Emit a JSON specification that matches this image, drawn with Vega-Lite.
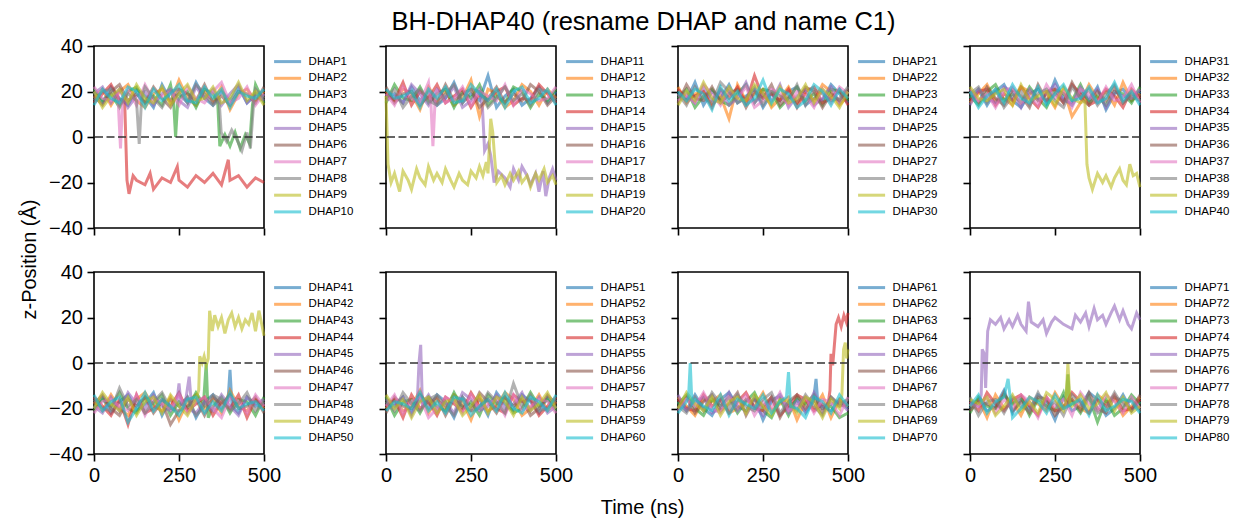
{"$schema":"https://vega.github.io/schema/vega-lite/v6.json","autosize":{"type":"pad"},"padding":{"left":18,"top":9,"right":5,"bottom":5},
"title":{"text":"BH-DHAP40 (resname DHAP and name C1)","anchor":"middle","frame":"bounds","fontSize":25.5,"fontWeight":"normal","color":"#000","offset":-20,"baseline":"alphabetic","dx":14.5},
"datasets":{
"p1":[{"s":1,"t":0,"z":20},{"s":1,"t":25,"z":15},{"s":1,"t":50,"z":22},{"s":1,"t":75,"z":17},{"s":1,"t":100,"z":14},{"s":1,"t":125,"z":21},{"s":1,"t":150,"z":18},{"s":1,"t":175,"z":13},{"s":1,"t":200,"z":23},{"s":1,"t":225,"z":16},{"s":1,"t":250,"z":19},{"s":1,"t":275,"z":15},{"s":1,"t":300,"z":24},{"s":1,"t":325,"z":17},{"s":1,"t":350,"z":14},{"s":1,"t":375,"z":20},{"s":1,"t":400,"z":16},{"s":1,"t":425,"z":22},{"s":1,"t":450,"z":15},{"s":1,"t":475,"z":19},{"s":1,"t":500,"z":18},
{"s":2,"t":0,"z":17},{"s":2,"t":25,"z":21},{"s":2,"t":50,"z":14},{"s":2,"t":75,"z":20},{"s":2,"t":100,"z":23},{"s":2,"t":125,"z":16},{"s":2,"t":150,"z":13},{"s":2,"t":175,"z":19},{"s":2,"t":200,"z":21},{"s":2,"t":225,"z":15},{"s":2,"t":250,"z":25},{"s":2,"t":275,"z":17},{"s":2,"t":300,"z":14},{"s":2,"t":325,"z":20},{"s":2,"t":350,"z":16},{"s":2,"t":375,"z":22},{"s":2,"t":400,"z":12},{"s":2,"t":425,"z":19},{"s":2,"t":450,"z":21},{"s":2,"t":475,"z":16},{"s":2,"t":500,"z":20},
{"s":3,"t":0,"z":21},{"s":3,"t":25,"z":16},{"s":3,"t":50,"z":19},{"s":3,"t":75,"z":13},{"s":3,"t":100,"z":20},{"s":3,"t":125,"z":22},{"s":3,"t":150,"z":15},{"s":3,"t":175,"z":18},{"s":3,"t":200,"z":14},{"s":3,"t":225,"z":23},{"s":3,"t":234,"z":16},{"s":3,"t":240,"z":0},{"s":3,"t":246,"z":15},{"s":3,"t":250,"z":17},{"s":3,"t":275,"z":20},{"s":3,"t":300,"z":13},{"s":3,"t":325,"z":21},{"s":3,"t":350,"z":19},{"s":3,"t":364,"z":15},{"s":3,"t":370,"z":-4},{"s":3,"t":385,"z":1},{"s":3,"t":400,"z":-4},{"s":3,"t":415,"z":2},{"s":3,"t":430,"z":-5},{"s":3,"t":445,"z":1},{"s":3,"t":458,"z":-3},{"s":3,"t":466,"z":14},{"s":3,"t":475,"z":23},{"s":3,"t":500,"z":15},
{"s":4,"t":0,"z":15},{"s":4,"t":25,"z":19},{"s":4,"t":50,"z":23},{"s":4,"t":75,"z":16},{"s":4,"t":90,"z":17},{"s":4,"t":97,"z":-19},{"s":4,"t":103,"z":-25},{"s":4,"t":115,"z":-17},{"s":4,"t":125,"z":-19},{"s":4,"t":150,"z":-21},{"s":4,"t":165,"z":-16},{"s":4,"t":175,"z":-23},{"s":4,"t":200,"z":-18},{"s":4,"t":225,"z":-20},{"s":4,"t":245,"z":-13},{"s":4,"t":250,"z":-19},{"s":4,"t":275,"z":-22},{"s":4,"t":300,"z":-17},{"s":4,"t":325,"z":-20},{"s":4,"t":350,"z":-16},{"s":4,"t":375,"z":-21},{"s":4,"t":395,"z":-10},{"s":4,"t":400,"z":-19},{"s":4,"t":425,"z":-17},{"s":4,"t":450,"z":-22},{"s":4,"t":475,"z":-18},{"s":4,"t":500,"z":-20},
{"s":5,"t":0,"z":19},{"s":5,"t":25,"z":22},{"s":5,"t":50,"z":15},{"s":5,"t":75,"z":21},{"s":5,"t":100,"z":13},{"s":5,"t":125,"z":18},{"s":5,"t":150,"z":20},{"s":5,"t":175,"z":14},{"s":5,"t":200,"z":19},{"s":5,"t":225,"z":21},{"s":5,"t":250,"z":16},{"s":5,"t":275,"z":13},{"s":5,"t":300,"z":22},{"s":5,"t":325,"z":17},{"s":5,"t":350,"z":21},{"s":5,"t":375,"z":14},{"s":5,"t":400,"z":19},{"s":5,"t":425,"z":23},{"s":5,"t":450,"z":15},{"s":5,"t":475,"z":18},{"s":5,"t":500,"z":16},
{"s":6,"t":0,"z":18},{"s":6,"t":25,"z":14},{"s":6,"t":50,"z":20},{"s":6,"t":75,"z":23},{"s":6,"t":100,"z":16},{"s":6,"t":125,"z":19},{"s":6,"t":150,"z":15},{"s":6,"t":175,"z":22},{"s":6,"t":200,"z":17},{"s":6,"t":225,"z":13},{"s":6,"t":250,"z":21},{"s":6,"t":275,"z":19},{"s":6,"t":300,"z":16},{"s":6,"t":325,"z":23},{"s":6,"t":350,"z":15},{"s":6,"t":375,"z":18},{"s":6,"t":400,"z":14},{"s":6,"t":425,"z":20},{"s":6,"t":450,"z":19},{"s":6,"t":475,"z":15},{"s":6,"t":500,"z":22},
{"s":7,"t":0,"z":22},{"s":7,"t":25,"z":17},{"s":7,"t":50,"z":16},{"s":7,"t":70,"z":19},{"s":7,"t":78,"z":-5},{"s":7,"t":84,"z":16},{"s":7,"t":100,"z":21},{"s":7,"t":125,"z":14},{"s":7,"t":150,"z":23},{"s":7,"t":175,"z":16},{"s":7,"t":200,"z":18},{"s":7,"t":225,"z":20},{"s":7,"t":250,"z":14},{"s":7,"t":275,"z":22},{"s":7,"t":300,"z":17},{"s":7,"t":325,"z":15},{"s":7,"t":350,"z":20},{"s":7,"t":375,"z":24},{"s":7,"t":400,"z":15},{"s":7,"t":425,"z":17},{"s":7,"t":450,"z":22},{"s":7,"t":475,"z":14},{"s":7,"t":500,"z":19},
{"s":8,"t":0,"z":16},{"s":8,"t":25,"z":20},{"s":8,"t":50,"z":21},{"s":8,"t":75,"z":14},{"s":8,"t":100,"z":19},{"s":8,"t":125,"z":16},{"s":8,"t":133,"z":-3},{"s":8,"t":140,"z":17},{"s":8,"t":150,"z":22},{"s":8,"t":175,"z":17},{"s":8,"t":200,"z":13},{"s":8,"t":225,"z":20},{"s":8,"t":250,"z":21},{"s":8,"t":275,"z":15},{"s":8,"t":300,"z":23},{"s":8,"t":325,"z":19},{"s":8,"t":350,"z":14},{"s":8,"t":368,"z":16},{"s":8,"t":374,"z":2},{"s":8,"t":390,"z":-2},{"s":8,"t":405,"z":3},{"s":8,"t":420,"z":-1},{"s":8,"t":435,"z":-6},{"s":8,"t":450,"z":2},{"s":8,"t":460,"z":-5},{"s":8,"t":470,"z":16},{"s":8,"t":475,"z":21},{"s":8,"t":500,"z":17},
{"s":9,"t":0,"z":20},{"s":9,"t":25,"z":13},{"s":9,"t":50,"z":18},{"s":9,"t":75,"z":21},{"s":9,"t":100,"z":15},{"s":9,"t":125,"z":23},{"s":9,"t":150,"z":17},{"s":9,"t":175,"z":15},{"s":9,"t":200,"z":22},{"s":9,"t":225,"z":14},{"s":9,"t":250,"z":19},{"s":9,"t":275,"z":23},{"s":9,"t":300,"z":16},{"s":9,"t":325,"z":17},{"s":9,"t":350,"z":22},{"s":9,"t":375,"z":15},{"s":9,"t":400,"z":17},{"s":9,"t":425,"z":24},{"s":9,"t":450,"z":16},{"s":9,"t":475,"z":20},{"s":9,"t":500,"z":14},
{"s":10,"t":0,"z":14},{"s":10,"t":25,"z":21},{"s":10,"t":50,"z":17},{"s":10,"t":75,"z":15},{"s":10,"t":100,"z":22},{"s":10,"t":125,"z":20},{"s":10,"t":150,"z":13},{"s":10,"t":175,"z":21},{"s":10,"t":200,"z":16},{"s":10,"t":225,"z":19},{"s":10,"t":250,"z":23},{"s":10,"t":275,"z":16},{"s":10,"t":300,"z":15},{"s":10,"t":325,"z":22},{"s":10,"t":350,"z":17},{"s":10,"t":375,"z":21},{"s":10,"t":400,"z":13},{"s":10,"t":425,"z":20},{"s":10,"t":450,"z":18},{"s":10,"t":475,"z":17},{"s":10,"t":500,"z":21}],
"p2":[{"s":11,"t":0,"z":18},{"s":11,"t":25,"z":19},{"s":11,"t":50,"z":15},{"s":11,"t":75,"z":22},{"s":11,"t":100,"z":16},{"s":11,"t":125,"z":20},{"s":11,"t":150,"z":14},{"s":11,"t":175,"z":17},{"s":11,"t":200,"z":24},{"s":11,"t":225,"z":15},{"s":11,"t":250,"z":19},{"s":11,"t":275,"z":16},{"s":11,"t":300,"z":27},{"s":11,"t":325,"z":13},{"s":11,"t":350,"z":18},{"s":11,"t":375,"z":21},{"s":11,"t":400,"z":14},{"s":11,"t":425,"z":17},{"s":11,"t":450,"z":22},{"s":11,"t":475,"z":15},{"s":11,"t":500,"z":20},
{"s":12,"t":0,"z":20},{"s":12,"t":25,"z":16},{"s":12,"t":50,"z":21},{"s":12,"t":75,"z":19},{"s":12,"t":100,"z":12},{"s":12,"t":125,"z":22},{"s":12,"t":150,"z":16},{"s":12,"t":175,"z":20},{"s":12,"t":200,"z":14},{"s":12,"t":225,"z":17},{"s":12,"t":250,"z":25},{"s":12,"t":275,"z":9},{"s":12,"t":300,"z":21},{"s":12,"t":325,"z":19},{"s":12,"t":350,"z":13},{"s":12,"t":375,"z":16},{"s":12,"t":400,"z":23},{"s":12,"t":425,"z":20},{"s":12,"t":450,"z":14},{"s":12,"t":475,"z":21},{"s":12,"t":500,"z":17},
{"s":13,"t":0,"z":15},{"s":13,"t":25,"z":23},{"s":13,"t":50,"z":17},{"s":13,"t":75,"z":16},{"s":13,"t":100,"z":22},{"s":13,"t":125,"z":15},{"s":13,"t":150,"z":19},{"s":13,"t":175,"z":21},{"s":13,"t":200,"z":13},{"s":13,"t":225,"z":20},{"s":13,"t":250,"z":17},{"s":13,"t":275,"z":23},{"s":13,"t":300,"z":14},{"s":13,"t":325,"z":18},{"s":13,"t":350,"z":15},{"s":13,"t":375,"z":22},{"s":13,"t":400,"z":20},{"s":13,"t":425,"z":13},{"s":13,"t":450,"z":19},{"s":13,"t":475,"z":16},{"s":13,"t":500,"z":21},
{"s":14,"t":0,"z":19},{"s":14,"t":25,"z":16},{"s":14,"t":50,"z":24},{"s":14,"t":75,"z":14},{"s":14,"t":100,"z":20},{"s":14,"t":125,"z":17},{"s":14,"t":150,"z":23},{"s":14,"t":175,"z":15},{"s":14,"t":200,"z":18},{"s":14,"t":225,"z":21},{"s":14,"t":250,"z":13},{"s":14,"t":275,"z":19},{"s":14,"t":300,"z":16},{"s":14,"t":325,"z":20},{"s":14,"t":350,"z":22},{"s":14,"t":375,"z":14},{"s":14,"t":400,"z":17},{"s":14,"t":425,"z":16},{"s":14,"t":450,"z":23},{"s":14,"t":475,"z":19},{"s":14,"t":500,"z":15},
{"s":15,"t":0,"z":16},{"s":15,"t":25,"z":18},{"s":15,"t":50,"z":15},{"s":15,"t":75,"z":23},{"s":15,"t":100,"z":19},{"s":15,"t":125,"z":14},{"s":15,"t":150,"z":21},{"s":15,"t":175,"z":17},{"s":15,"t":200,"z":22},{"s":15,"t":225,"z":13},{"s":15,"t":250,"z":16},{"s":15,"t":275,"z":21},{"s":15,"t":284,"z":12},{"s":15,"t":290,"z":-6},{"s":15,"t":300,"z":-3},{"s":15,"t":308,"z":-8},{"s":15,"t":318,"z":-20},{"s":15,"t":330,"z":-15},{"s":15,"t":350,"z":-18},{"s":15,"t":365,"z":-22},{"s":15,"t":375,"z":-14},{"s":15,"t":390,"z":-19},{"s":15,"t":400,"z":-13},{"s":15,"t":415,"z":-17},{"s":15,"t":425,"z":-21},{"s":15,"t":440,"z":-16},{"s":15,"t":450,"z":-24},{"s":15,"t":462,"z":-15},{"s":15,"t":470,"z":-26},{"s":15,"t":480,"z":-18},{"s":15,"t":490,"z":-14},{"s":15,"t":500,"z":-19},
{"s":16,"t":0,"z":22},{"s":16,"t":25,"z":15},{"s":16,"t":50,"z":19},{"s":16,"t":75,"z":20},{"s":16,"t":100,"z":14},{"s":16,"t":125,"z":18},{"s":16,"t":150,"z":15},{"s":16,"t":175,"z":23},{"s":16,"t":200,"z":16},{"s":16,"t":225,"z":19},{"s":16,"t":250,"z":21},{"s":16,"t":275,"z":13},{"s":16,"t":300,"z":17},{"s":16,"t":325,"z":22},{"s":16,"t":350,"z":15},{"s":16,"t":375,"z":19},{"s":16,"t":400,"z":16},{"s":16,"t":425,"z":23},{"s":16,"t":450,"z":20},{"s":16,"t":475,"z":14},{"s":16,"t":500,"z":18},
{"s":17,"t":0,"z":19},{"s":17,"t":25,"z":14},{"s":17,"t":50,"z":22},{"s":17,"t":75,"z":17},{"s":17,"t":100,"z":15},{"s":17,"t":125,"z":24},{"s":17,"t":132,"z":15},{"s":17,"t":138,"z":-4},{"s":17,"t":144,"z":15},{"s":17,"t":150,"z":20},{"s":17,"t":175,"z":15},{"s":17,"t":200,"z":17},{"s":17,"t":225,"z":22},{"s":17,"t":250,"z":14},{"s":17,"t":275,"z":20},{"s":17,"t":300,"z":18},{"s":17,"t":325,"z":16},{"s":17,"t":350,"z":23},{"s":17,"t":375,"z":14},{"s":17,"t":400,"z":21},{"s":17,"t":425,"z":19},{"s":17,"t":450,"z":16},{"s":17,"t":475,"z":17},{"s":17,"t":500,"z":22},
{"s":18,"t":0,"z":17},{"s":18,"t":25,"z":21},{"s":18,"t":50,"z":13},{"s":18,"t":75,"z":18},{"s":18,"t":100,"z":21},{"s":18,"t":125,"z":16},{"s":18,"t":150,"z":14},{"s":18,"t":175,"z":19},{"s":18,"t":200,"z":23},{"s":18,"t":225,"z":15},{"s":18,"t":250,"z":21},{"s":18,"t":275,"z":20},{"s":18,"t":300,"z":13},{"s":18,"t":325,"z":17},{"s":18,"t":350,"z":22},{"s":18,"t":375,"z":16},{"s":18,"t":400,"z":19},{"s":18,"t":425,"z":14},{"s":18,"t":450,"z":21},{"s":18,"t":475,"z":20},{"s":18,"t":500,"z":16},
{"s":19,"t":0,"z":18},{"s":19,"t":6,"z":-12},{"s":19,"t":15,"z":-20},{"s":19,"t":25,"z":-16},{"s":19,"t":40,"z":-24},{"s":19,"t":50,"z":-15},{"s":19,"t":65,"z":-19},{"s":19,"t":75,"z":-23},{"s":19,"t":90,"z":-14},{"s":19,"t":100,"z":-18},{"s":19,"t":115,"z":-21},{"s":19,"t":125,"z":-13},{"s":19,"t":140,"z":-19},{"s":19,"t":150,"z":-16},{"s":19,"t":165,"z":-20},{"s":19,"t":175,"z":-14},{"s":19,"t":190,"z":-19},{"s":19,"t":200,"z":-22},{"s":19,"t":215,"z":-16},{"s":19,"t":225,"z":-19},{"s":19,"t":240,"z":-21},{"s":19,"t":250,"z":-15},{"s":19,"t":265,"z":-18},{"s":19,"t":275,"z":-13},{"s":19,"t":285,"z":-17},{"s":19,"t":295,"z":-11},{"s":19,"t":300,"z":-16},{"s":19,"t":308,"z":8},{"s":19,"t":314,"z":2},{"s":19,"t":320,"z":-10},{"s":19,"t":326,"z":-20},{"s":19,"t":340,"z":-17},{"s":19,"t":350,"z":-21},{"s":19,"t":365,"z":-16},{"s":19,"t":375,"z":-19},{"s":19,"t":390,"z":-15},{"s":19,"t":400,"z":-20},{"s":19,"t":415,"z":-17},{"s":19,"t":425,"z":-22},{"s":19,"t":440,"z":-16},{"s":19,"t":450,"z":-19},{"s":19,"t":465,"z":-14},{"s":19,"t":475,"z":-20},{"s":19,"t":490,"z":-17},{"s":19,"t":500,"z":-21},
{"s":20,"t":0,"z":21},{"s":20,"t":25,"z":17},{"s":20,"t":50,"z":18},{"s":20,"t":75,"z":20},{"s":20,"t":100,"z":13},{"s":20,"t":125,"z":21},{"s":20,"t":150,"z":17},{"s":20,"t":175,"z":22},{"s":20,"t":200,"z":15},{"s":20,"t":225,"z":16},{"s":20,"t":250,"z":23},{"s":20,"t":275,"z":19},{"s":20,"t":300,"z":16},{"s":20,"t":325,"z":21},{"s":20,"t":350,"z":13},{"s":20,"t":375,"z":20},{"s":20,"t":400,"z":22},{"s":20,"t":425,"z":15},{"s":20,"t":450,"z":17},{"s":20,"t":475,"z":21},{"s":20,"t":500,"z":14}],
"p3":[{"s":21,"t":0,"z":19},{"s":21,"t":25,"z":16},{"s":21,"t":50,"z":24},{"s":21,"t":75,"z":14},{"s":21,"t":100,"z":20},{"s":21,"t":125,"z":17},{"s":21,"t":150,"z":23},{"s":21,"t":175,"z":15},{"s":21,"t":200,"z":18},{"s":21,"t":225,"z":21},{"s":21,"t":250,"z":13},{"s":21,"t":275,"z":19},{"s":21,"t":300,"z":16},{"s":21,"t":325,"z":20},{"s":21,"t":350,"z":22},{"s":21,"t":375,"z":14},{"s":21,"t":400,"z":17},{"s":21,"t":425,"z":16},{"s":21,"t":450,"z":23},{"s":21,"t":475,"z":19},{"s":21,"t":500,"z":15},
{"s":22,"t":0,"z":22},{"s":22,"t":25,"z":15},{"s":22,"t":50,"z":19},{"s":22,"t":75,"z":20},{"s":22,"t":100,"z":14},{"s":22,"t":125,"z":18},{"s":22,"t":150,"z":8},{"s":22,"t":175,"z":23},{"s":22,"t":200,"z":16},{"s":22,"t":225,"z":19},{"s":22,"t":250,"z":21},{"s":22,"t":275,"z":13},{"s":22,"t":300,"z":17},{"s":22,"t":325,"z":22},{"s":22,"t":350,"z":15},{"s":22,"t":375,"z":19},{"s":22,"t":400,"z":16},{"s":22,"t":425,"z":23},{"s":22,"t":450,"z":20},{"s":22,"t":475,"z":14},{"s":22,"t":500,"z":18},
{"s":23,"t":0,"z":17},{"s":23,"t":25,"z":21},{"s":23,"t":50,"z":13},{"s":23,"t":75,"z":18},{"s":23,"t":100,"z":21},{"s":23,"t":125,"z":16},{"s":23,"t":150,"z":14},{"s":23,"t":175,"z":19},{"s":23,"t":200,"z":23},{"s":23,"t":225,"z":15},{"s":23,"t":250,"z":21},{"s":23,"t":275,"z":20},{"s":23,"t":300,"z":13},{"s":23,"t":325,"z":17},{"s":23,"t":350,"z":22},{"s":23,"t":375,"z":16},{"s":23,"t":400,"z":19},{"s":23,"t":425,"z":14},{"s":23,"t":450,"z":21},{"s":23,"t":475,"z":20},{"s":23,"t":500,"z":16},
{"s":24,"t":0,"z":21},{"s":24,"t":25,"z":17},{"s":24,"t":50,"z":18},{"s":24,"t":75,"z":20},{"s":24,"t":100,"z":13},{"s":24,"t":125,"z":21},{"s":24,"t":150,"z":17},{"s":24,"t":175,"z":22},{"s":24,"t":200,"z":15},{"s":24,"t":225,"z":27},{"s":24,"t":250,"z":17},{"s":24,"t":275,"z":19},{"s":24,"t":300,"z":16},{"s":24,"t":325,"z":21},{"s":24,"t":350,"z":13},{"s":24,"t":375,"z":20},{"s":24,"t":400,"z":22},{"s":24,"t":425,"z":15},{"s":24,"t":450,"z":17},{"s":24,"t":475,"z":21},{"s":24,"t":500,"z":14},
{"s":25,"t":0,"z":18},{"s":25,"t":25,"z":19},{"s":25,"t":50,"z":15},{"s":25,"t":75,"z":22},{"s":25,"t":100,"z":16},{"s":25,"t":125,"z":20},{"s":25,"t":150,"z":14},{"s":25,"t":175,"z":17},{"s":25,"t":200,"z":24},{"s":25,"t":225,"z":15},{"s":25,"t":250,"z":19},{"s":25,"t":275,"z":16},{"s":25,"t":300,"z":23},{"s":25,"t":325,"z":13},{"s":25,"t":350,"z":18},{"s":25,"t":375,"z":21},{"s":25,"t":400,"z":14},{"s":25,"t":425,"z":17},{"s":25,"t":450,"z":22},{"s":25,"t":475,"z":15},{"s":25,"t":500,"z":20},
{"s":26,"t":0,"z":15},{"s":26,"t":25,"z":23},{"s":26,"t":50,"z":17},{"s":26,"t":75,"z":16},{"s":26,"t":100,"z":22},{"s":26,"t":125,"z":15},{"s":26,"t":150,"z":19},{"s":26,"t":175,"z":21},{"s":26,"t":200,"z":13},{"s":26,"t":225,"z":20},{"s":26,"t":250,"z":17},{"s":26,"t":275,"z":23},{"s":26,"t":300,"z":14},{"s":26,"t":325,"z":18},{"s":26,"t":350,"z":15},{"s":26,"t":375,"z":22},{"s":26,"t":400,"z":20},{"s":26,"t":425,"z":13},{"s":26,"t":450,"z":19},{"s":26,"t":475,"z":16},{"s":26,"t":500,"z":21},
{"s":27,"t":0,"z":16},{"s":27,"t":25,"z":18},{"s":27,"t":50,"z":15},{"s":27,"t":75,"z":23},{"s":27,"t":100,"z":19},{"s":27,"t":125,"z":14},{"s":27,"t":150,"z":21},{"s":27,"t":175,"z":17},{"s":27,"t":200,"z":22},{"s":27,"t":225,"z":13},{"s":27,"t":250,"z":16},{"s":27,"t":275,"z":21},{"s":27,"t":300,"z":19},{"s":27,"t":325,"z":14},{"s":27,"t":350,"z":20},{"s":27,"t":375,"z":18},{"s":27,"t":400,"z":13},{"s":27,"t":425,"z":21},{"s":27,"t":450,"z":15},{"s":27,"t":475,"z":22},{"s":27,"t":500,"z":19},
{"s":28,"t":0,"z":19},{"s":28,"t":25,"z":14},{"s":28,"t":50,"z":22},{"s":28,"t":75,"z":17},{"s":28,"t":100,"z":15},{"s":28,"t":125,"z":24},{"s":28,"t":150,"z":20},{"s":28,"t":175,"z":15},{"s":28,"t":200,"z":17},{"s":28,"t":225,"z":22},{"s":28,"t":250,"z":14},{"s":28,"t":275,"z":20},{"s":28,"t":300,"z":18},{"s":28,"t":325,"z":16},{"s":28,"t":350,"z":23},{"s":28,"t":375,"z":14},{"s":28,"t":400,"z":21},{"s":28,"t":425,"z":19},{"s":28,"t":450,"z":16},{"s":28,"t":475,"z":17},{"s":28,"t":500,"z":22},
{"s":29,"t":0,"z":14},{"s":29,"t":25,"z":20},{"s":29,"t":50,"z":16},{"s":29,"t":75,"z":24},{"s":29,"t":100,"z":17},{"s":29,"t":125,"z":15},{"s":29,"t":150,"z":22},{"s":29,"t":175,"z":17},{"s":29,"t":200,"z":16},{"s":29,"t":225,"z":23},{"s":29,"t":250,"z":19},{"s":29,"t":275,"z":14},{"s":29,"t":300,"z":22},{"s":29,"t":325,"z":15},{"s":29,"t":350,"z":17},{"s":29,"t":375,"z":23},{"s":29,"t":400,"z":15},{"s":29,"t":425,"z":21},{"s":29,"t":450,"z":18},{"s":29,"t":475,"z":13},{"s":29,"t":500,"z":20},
{"s":30,"t":0,"z":20},{"s":30,"t":25,"z":16},{"s":30,"t":50,"z":21},{"s":30,"t":75,"z":19},{"s":30,"t":100,"z":12},{"s":30,"t":125,"z":22},{"s":30,"t":150,"z":16},{"s":30,"t":175,"z":20},{"s":30,"t":200,"z":14},{"s":30,"t":225,"z":17},{"s":30,"t":250,"z":25},{"s":30,"t":275,"z":15},{"s":30,"t":300,"z":21},{"s":30,"t":325,"z":19},{"s":30,"t":350,"z":13},{"s":30,"t":375,"z":16},{"s":30,"t":400,"z":23},{"s":30,"t":425,"z":20},{"s":30,"t":450,"z":14},{"s":30,"t":475,"z":21},{"s":30,"t":500,"z":17}],
"p4":[{"s":31,"t":0,"z":17},{"s":31,"t":25,"z":21},{"s":31,"t":50,"z":14},{"s":31,"t":75,"z":20},{"s":31,"t":100,"z":23},{"s":31,"t":125,"z":16},{"s":31,"t":150,"z":13},{"s":31,"t":175,"z":19},{"s":31,"t":200,"z":21},{"s":31,"t":225,"z":15},{"s":31,"t":250,"z":25},{"s":31,"t":275,"z":17},{"s":31,"t":300,"z":14},{"s":31,"t":325,"z":20},{"s":31,"t":350,"z":16},{"s":31,"t":375,"z":22},{"s":31,"t":400,"z":12},{"s":31,"t":425,"z":19},{"s":31,"t":450,"z":21},{"s":31,"t":475,"z":16},{"s":31,"t":500,"z":20},
{"s":32,"t":0,"z":15},{"s":32,"t":25,"z":19},{"s":32,"t":50,"z":23},{"s":32,"t":75,"z":16},{"s":32,"t":100,"z":17},{"s":32,"t":125,"z":14},{"s":32,"t":150,"z":22},{"s":32,"t":175,"z":20},{"s":32,"t":200,"z":16},{"s":32,"t":225,"z":19},{"s":32,"t":250,"z":13},{"s":32,"t":275,"z":21},{"s":32,"t":300,"z":9},{"s":32,"t":325,"z":15},{"s":32,"t":350,"z":23},{"s":32,"t":375,"z":17},{"s":32,"t":400,"z":20},{"s":32,"t":425,"z":14},{"s":32,"t":450,"z":24},{"s":32,"t":475,"z":16},{"s":32,"t":500,"z":19},
{"s":33,"t":0,"z":18},{"s":33,"t":25,"z":14},{"s":33,"t":50,"z":20},{"s":33,"t":75,"z":23},{"s":33,"t":100,"z":16},{"s":33,"t":125,"z":19},{"s":33,"t":150,"z":15},{"s":33,"t":175,"z":22},{"s":33,"t":200,"z":17},{"s":33,"t":225,"z":13},{"s":33,"t":250,"z":21},{"s":33,"t":275,"z":19},{"s":33,"t":300,"z":16},{"s":33,"t":325,"z":23},{"s":33,"t":350,"z":15},{"s":33,"t":375,"z":18},{"s":33,"t":400,"z":14},{"s":33,"t":425,"z":20},{"s":33,"t":450,"z":19},{"s":33,"t":475,"z":15},{"s":33,"t":500,"z":22},
{"s":34,"t":0,"z":16},{"s":34,"t":25,"z":20},{"s":34,"t":50,"z":21},{"s":34,"t":75,"z":14},{"s":34,"t":100,"z":19},{"s":34,"t":125,"z":16},{"s":34,"t":150,"z":22},{"s":34,"t":175,"z":17},{"s":34,"t":200,"z":13},{"s":34,"t":225,"z":20},{"s":34,"t":250,"z":21},{"s":34,"t":275,"z":15},{"s":34,"t":300,"z":23},{"s":34,"t":325,"z":19},{"s":34,"t":350,"z":14},{"s":34,"t":375,"z":16},{"s":34,"t":400,"z":21},{"s":34,"t":425,"z":18},{"s":34,"t":450,"z":13},{"s":34,"t":475,"z":21},{"s":34,"t":500,"z":17},
{"s":35,"t":0,"z":14},{"s":35,"t":25,"z":21},{"s":35,"t":50,"z":17},{"s":35,"t":75,"z":15},{"s":35,"t":100,"z":22},{"s":35,"t":125,"z":20},{"s":35,"t":150,"z":13},{"s":35,"t":175,"z":21},{"s":35,"t":200,"z":16},{"s":35,"t":225,"z":19},{"s":35,"t":250,"z":23},{"s":35,"t":275,"z":16},{"s":35,"t":300,"z":15},{"s":35,"t":325,"z":22},{"s":35,"t":350,"z":17},{"s":35,"t":375,"z":21},{"s":35,"t":400,"z":13},{"s":35,"t":425,"z":20},{"s":35,"t":450,"z":18},{"s":35,"t":475,"z":17},{"s":35,"t":500,"z":21},
{"s":36,"t":0,"z":20},{"s":36,"t":25,"z":15},{"s":36,"t":50,"z":22},{"s":36,"t":75,"z":17},{"s":36,"t":100,"z":14},{"s":36,"t":125,"z":21},{"s":36,"t":150,"z":18},{"s":36,"t":175,"z":13},{"s":36,"t":200,"z":23},{"s":36,"t":225,"z":16},{"s":36,"t":250,"z":19},{"s":36,"t":275,"z":15},{"s":36,"t":300,"z":24},{"s":36,"t":325,"z":17},{"s":36,"t":350,"z":14},{"s":36,"t":375,"z":20},{"s":36,"t":400,"z":16},{"s":36,"t":425,"z":22},{"s":36,"t":450,"z":15},{"s":36,"t":475,"z":19},{"s":36,"t":500,"z":18},
{"s":37,"t":0,"z":21},{"s":37,"t":25,"z":16},{"s":37,"t":50,"z":19},{"s":37,"t":75,"z":13},{"s":37,"t":100,"z":20},{"s":37,"t":125,"z":22},{"s":37,"t":150,"z":15},{"s":37,"t":175,"z":18},{"s":37,"t":200,"z":14},{"s":37,"t":225,"z":23},{"s":37,"t":250,"z":17},{"s":37,"t":275,"z":20},{"s":37,"t":300,"z":13},{"s":37,"t":325,"z":21},{"s":37,"t":350,"z":19},{"s":37,"t":375,"z":15},{"s":37,"t":400,"z":22},{"s":37,"t":425,"z":16},{"s":37,"t":450,"z":17},{"s":37,"t":475,"z":23},{"s":37,"t":500,"z":15},
{"s":38,"t":0,"z":19},{"s":38,"t":25,"z":22},{"s":38,"t":50,"z":15},{"s":38,"t":75,"z":21},{"s":38,"t":100,"z":13},{"s":38,"t":125,"z":18},{"s":38,"t":150,"z":20},{"s":38,"t":175,"z":14},{"s":38,"t":200,"z":19},{"s":38,"t":225,"z":21},{"s":38,"t":250,"z":16},{"s":38,"t":275,"z":13},{"s":38,"t":300,"z":22},{"s":38,"t":325,"z":17},{"s":38,"t":350,"z":21},{"s":38,"t":375,"z":14},{"s":38,"t":400,"z":19},{"s":38,"t":425,"z":23},{"s":38,"t":450,"z":15},{"s":38,"t":475,"z":18},{"s":38,"t":500,"z":16},
{"s":39,"t":0,"z":22},{"s":39,"t":25,"z":17},{"s":39,"t":50,"z":16},{"s":39,"t":75,"z":19},{"s":39,"t":100,"z":21},{"s":39,"t":125,"z":14},{"s":39,"t":150,"z":23},{"s":39,"t":175,"z":16},{"s":39,"t":200,"z":18},{"s":39,"t":225,"z":20},{"s":39,"t":250,"z":14},{"s":39,"t":275,"z":22},{"s":39,"t":300,"z":17},{"s":39,"t":325,"z":15},{"s":39,"t":338,"z":16},{"s":39,"t":344,"z":-12},{"s":39,"t":350,"z":-18},{"s":39,"t":360,"z":-23},{"s":39,"t":375,"z":-16},{"s":39,"t":390,"z":-20},{"s":39,"t":400,"z":-17},{"s":39,"t":415,"z":-22},{"s":39,"t":425,"z":-18},{"s":39,"t":440,"z":-14},{"s":39,"t":450,"z":-19},{"s":39,"t":460,"z":-21},{"s":39,"t":470,"z":-12},{"s":39,"t":480,"z":-17},{"s":39,"t":490,"z":-16},{"s":39,"t":500,"z":-22},
{"s":40,"t":0,"z":20},{"s":40,"t":25,"z":13},{"s":40,"t":50,"z":18},{"s":40,"t":75,"z":21},{"s":40,"t":100,"z":15},{"s":40,"t":125,"z":23},{"s":40,"t":150,"z":17},{"s":40,"t":175,"z":15},{"s":40,"t":200,"z":22},{"s":40,"t":225,"z":14},{"s":40,"t":250,"z":19},{"s":40,"t":275,"z":23},{"s":40,"t":300,"z":16},{"s":40,"t":325,"z":17},{"s":40,"t":350,"z":22},{"s":40,"t":375,"z":15},{"s":40,"t":400,"z":17},{"s":40,"t":425,"z":24},{"s":40,"t":450,"z":16},{"s":40,"t":475,"z":20},{"s":40,"t":500,"z":14}],
"p5":[{"s":41,"t":0,"z":-20},{"s":41,"t":25,"z":-15},{"s":41,"t":50,"z":-22},{"s":41,"t":75,"z":-17},{"s":41,"t":100,"z":-14},{"s":41,"t":125,"z":-21},{"s":41,"t":150,"z":-18},{"s":41,"t":175,"z":-13},{"s":41,"t":200,"z":-23},{"s":41,"t":225,"z":-16},{"s":41,"t":250,"z":-19},{"s":41,"t":275,"z":-15},{"s":41,"t":300,"z":-24},{"s":41,"t":325,"z":-17},{"s":41,"t":350,"z":-14},{"s":41,"t":375,"z":-20},{"s":41,"t":394,"z":-17},{"s":41,"t":400,"z":-3},{"s":41,"t":406,"z":-19},{"s":41,"t":425,"z":-22},{"s":41,"t":450,"z":-15},{"s":41,"t":475,"z":-19},{"s":41,"t":500,"z":-18},
{"s":42,"t":0,"z":-17},{"s":42,"t":25,"z":-21},{"s":42,"t":50,"z":-14},{"s":42,"t":75,"z":-20},{"s":42,"t":100,"z":-23},{"s":42,"t":125,"z":-16},{"s":42,"t":150,"z":-13},{"s":42,"t":175,"z":-19},{"s":42,"t":200,"z":-21},{"s":42,"t":225,"z":-15},{"s":42,"t":250,"z":-25},{"s":42,"t":275,"z":-17},{"s":42,"t":300,"z":-14},{"s":42,"t":325,"z":-20},{"s":42,"t":350,"z":-16},{"s":42,"t":375,"z":-22},{"s":42,"t":400,"z":-12},{"s":42,"t":425,"z":-19},{"s":42,"t":450,"z":-21},{"s":42,"t":475,"z":-16},{"s":42,"t":500,"z":-20},
{"s":43,"t":0,"z":-21},{"s":43,"t":25,"z":-16},{"s":43,"t":50,"z":-19},{"s":43,"t":75,"z":-13},{"s":43,"t":100,"z":-20},{"s":43,"t":125,"z":-22},{"s":43,"t":150,"z":-15},{"s":43,"t":175,"z":-18},{"s":43,"t":200,"z":-14},{"s":43,"t":225,"z":-23},{"s":43,"t":250,"z":-17},{"s":43,"t":275,"z":-20},{"s":43,"t":300,"z":-13},{"s":43,"t":322,"z":-18},{"s":43,"t":330,"z":0},{"s":43,"t":336,"z":-24},{"s":43,"t":350,"z":-19},{"s":43,"t":375,"z":-15},{"s":43,"t":400,"z":-22},{"s":43,"t":425,"z":-16},{"s":43,"t":450,"z":-17},{"s":43,"t":475,"z":-23},{"s":43,"t":500,"z":-15},
{"s":44,"t":0,"z":-15},{"s":44,"t":25,"z":-19},{"s":44,"t":50,"z":-23},{"s":44,"t":75,"z":-16},{"s":44,"t":100,"z":-27},{"s":44,"t":125,"z":-14},{"s":44,"t":150,"z":-22},{"s":44,"t":175,"z":-20},{"s":44,"t":200,"z":-16},{"s":44,"t":225,"z":-19},{"s":44,"t":250,"z":-13},{"s":44,"t":275,"z":-21},{"s":44,"t":300,"z":-18},{"s":44,"t":325,"z":-15},{"s":44,"t":350,"z":-23},{"s":44,"t":375,"z":-17},{"s":44,"t":400,"z":-20},{"s":44,"t":425,"z":-14},{"s":44,"t":450,"z":-24},{"s":44,"t":475,"z":-16},{"s":44,"t":500,"z":-19},
{"s":45,"t":0,"z":-19},{"s":45,"t":25,"z":-22},{"s":45,"t":50,"z":-15},{"s":45,"t":75,"z":-21},{"s":45,"t":100,"z":-13},{"s":45,"t":125,"z":-18},{"s":45,"t":150,"z":-20},{"s":45,"t":175,"z":-14},{"s":45,"t":200,"z":-19},{"s":45,"t":225,"z":-21},{"s":45,"t":244,"z":-17},{"s":45,"t":250,"z":-9},{"s":45,"t":256,"z":-18},{"s":45,"t":270,"z":-16},{"s":45,"t":280,"z":-6},{"s":45,"t":288,"z":-21},{"s":45,"t":300,"z":-22},{"s":45,"t":325,"z":-17},{"s":45,"t":350,"z":-21},{"s":45,"t":375,"z":-14},{"s":45,"t":400,"z":-19},{"s":45,"t":425,"z":-23},{"s":45,"t":450,"z":-15},{"s":45,"t":475,"z":-18},{"s":45,"t":500,"z":-16},
{"s":46,"t":0,"z":-18},{"s":46,"t":25,"z":-14},{"s":46,"t":50,"z":-20},{"s":46,"t":75,"z":-23},{"s":46,"t":100,"z":-16},{"s":46,"t":125,"z":-19},{"s":46,"t":150,"z":-15},{"s":46,"t":175,"z":-22},{"s":46,"t":200,"z":-17},{"s":46,"t":225,"z":-27},{"s":46,"t":250,"z":-21},{"s":46,"t":275,"z":-19},{"s":46,"t":300,"z":-16},{"s":46,"t":325,"z":-23},{"s":46,"t":350,"z":-15},{"s":46,"t":375,"z":-18},{"s":46,"t":400,"z":-14},{"s":46,"t":425,"z":-20},{"s":46,"t":450,"z":-19},{"s":46,"t":475,"z":-15},{"s":46,"t":500,"z":-22},
{"s":47,"t":0,"z":-22},{"s":47,"t":25,"z":-17},{"s":47,"t":50,"z":-16},{"s":47,"t":75,"z":-19},{"s":47,"t":100,"z":-21},{"s":47,"t":125,"z":-14},{"s":47,"t":150,"z":-23},{"s":47,"t":175,"z":-16},{"s":47,"t":200,"z":-18},{"s":47,"t":225,"z":-20},{"s":47,"t":250,"z":-14},{"s":47,"t":275,"z":-22},{"s":47,"t":300,"z":-17},{"s":47,"t":325,"z":-15},{"s":47,"t":350,"z":-20},{"s":47,"t":375,"z":-24},{"s":47,"t":400,"z":-15},{"s":47,"t":425,"z":-17},{"s":47,"t":450,"z":-22},{"s":47,"t":475,"z":-14},{"s":47,"t":500,"z":-19},
{"s":48,"t":0,"z":-16},{"s":48,"t":25,"z":-20},{"s":48,"t":50,"z":-21},{"s":48,"t":75,"z":-11},{"s":48,"t":100,"z":-19},{"s":48,"t":125,"z":-16},{"s":48,"t":150,"z":-22},{"s":48,"t":175,"z":-17},{"s":48,"t":200,"z":-13},{"s":48,"t":225,"z":-20},{"s":48,"t":250,"z":-21},{"s":48,"t":275,"z":-15},{"s":48,"t":300,"z":-23},{"s":48,"t":325,"z":-19},{"s":48,"t":350,"z":-14},{"s":48,"t":375,"z":-16},{"s":48,"t":400,"z":-21},{"s":48,"t":425,"z":-18},{"s":48,"t":450,"z":-13},{"s":48,"t":475,"z":-21},{"s":48,"t":500,"z":-17},
{"s":49,"t":0,"z":-20},{"s":49,"t":25,"z":-13},{"s":49,"t":50,"z":-18},{"s":49,"t":75,"z":-21},{"s":49,"t":100,"z":-15},{"s":49,"t":125,"z":-23},{"s":49,"t":150,"z":-17},{"s":49,"t":175,"z":-15},{"s":49,"t":200,"z":-22},{"s":49,"t":225,"z":-14},{"s":49,"t":250,"z":-19},{"s":49,"t":275,"z":-23},{"s":49,"t":300,"z":-16},{"s":49,"t":308,"z":-12},{"s":49,"t":311,"z":3},{"s":49,"t":318,"z":0},{"s":49,"t":324,"z":3},{"s":49,"t":330,"z":-1},{"s":49,"t":336,"z":2},{"s":49,"t":340,"z":23},{"s":49,"t":348,"z":14},{"s":49,"t":355,"z":21},{"s":49,"t":365,"z":16},{"s":49,"t":375,"z":20},{"s":49,"t":385,"z":13},{"s":49,"t":395,"z":19},{"s":49,"t":405,"z":22},{"s":49,"t":415,"z":16},{"s":49,"t":425,"z":20},{"s":49,"t":435,"z":15},{"s":49,"t":445,"z":19},{"s":49,"t":455,"z":17},{"s":49,"t":465,"z":22},{"s":49,"t":475,"z":14},{"s":49,"t":485,"z":23},{"s":49,"t":492,"z":18},{"s":49,"t":500,"z":12},
{"s":50,"t":0,"z":-14},{"s":50,"t":25,"z":-21},{"s":50,"t":50,"z":-17},{"s":50,"t":75,"z":-15},{"s":50,"t":100,"z":-26},{"s":50,"t":125,"z":-20},{"s":50,"t":150,"z":-13},{"s":50,"t":175,"z":-21},{"s":50,"t":200,"z":-16},{"s":50,"t":225,"z":-19},{"s":50,"t":250,"z":-23},{"s":50,"t":275,"z":-16},{"s":50,"t":300,"z":-15},{"s":50,"t":325,"z":-22},{"s":50,"t":350,"z":-17},{"s":50,"t":375,"z":-21},{"s":50,"t":400,"z":-13},{"s":50,"t":425,"z":-20},{"s":50,"t":450,"z":-18},{"s":50,"t":475,"z":-17},{"s":50,"t":500,"z":-21}],
"p6":[{"s":51,"t":0,"z":-18},{"s":51,"t":25,"z":-19},{"s":51,"t":50,"z":-15},{"s":51,"t":75,"z":-22},{"s":51,"t":100,"z":-16},{"s":51,"t":125,"z":-20},{"s":51,"t":150,"z":-14},{"s":51,"t":175,"z":-17},{"s":51,"t":200,"z":-24},{"s":51,"t":225,"z":-15},{"s":51,"t":250,"z":-19},{"s":51,"t":275,"z":-16},{"s":51,"t":300,"z":-23},{"s":51,"t":325,"z":-13},{"s":51,"t":350,"z":-18},{"s":51,"t":375,"z":-21},{"s":51,"t":400,"z":-14},{"s":51,"t":425,"z":-17},{"s":51,"t":450,"z":-22},{"s":51,"t":475,"z":-15},{"s":51,"t":500,"z":-20},
{"s":52,"t":0,"z":-20},{"s":52,"t":25,"z":-16},{"s":52,"t":50,"z":-21},{"s":52,"t":75,"z":-19},{"s":52,"t":100,"z":-12},{"s":52,"t":125,"z":-22},{"s":52,"t":150,"z":-16},{"s":52,"t":175,"z":-20},{"s":52,"t":200,"z":-14},{"s":52,"t":225,"z":-17},{"s":52,"t":250,"z":-25},{"s":52,"t":275,"z":-15},{"s":52,"t":300,"z":-21},{"s":52,"t":325,"z":-19},{"s":52,"t":350,"z":-13},{"s":52,"t":375,"z":-16},{"s":52,"t":400,"z":-23},{"s":52,"t":425,"z":-20},{"s":52,"t":450,"z":-14},{"s":52,"t":475,"z":-21},{"s":52,"t":500,"z":-17},
{"s":53,"t":0,"z":-15},{"s":53,"t":25,"z":-23},{"s":53,"t":50,"z":-17},{"s":53,"t":75,"z":-16},{"s":53,"t":100,"z":-22},{"s":53,"t":125,"z":-15},{"s":53,"t":150,"z":-19},{"s":53,"t":175,"z":-21},{"s":53,"t":200,"z":-13},{"s":53,"t":225,"z":-20},{"s":53,"t":250,"z":-17},{"s":53,"t":275,"z":-23},{"s":53,"t":300,"z":-14},{"s":53,"t":325,"z":-18},{"s":53,"t":350,"z":-15},{"s":53,"t":375,"z":-22},{"s":53,"t":400,"z":-20},{"s":53,"t":425,"z":-13},{"s":53,"t":450,"z":-19},{"s":53,"t":475,"z":-16},{"s":53,"t":500,"z":-21},
{"s":54,"t":0,"z":-19},{"s":54,"t":25,"z":-16},{"s":54,"t":50,"z":-24},{"s":54,"t":75,"z":-14},{"s":54,"t":100,"z":-20},{"s":54,"t":125,"z":-17},{"s":54,"t":150,"z":-23},{"s":54,"t":175,"z":-15},{"s":54,"t":200,"z":-18},{"s":54,"t":225,"z":-21},{"s":54,"t":250,"z":-13},{"s":54,"t":275,"z":-19},{"s":54,"t":300,"z":-16},{"s":54,"t":325,"z":-20},{"s":54,"t":350,"z":-22},{"s":54,"t":375,"z":-14},{"s":54,"t":400,"z":-17},{"s":54,"t":425,"z":-16},{"s":54,"t":450,"z":-23},{"s":54,"t":475,"z":-19},{"s":54,"t":500,"z":-15},
{"s":55,"t":0,"z":-16},{"s":55,"t":25,"z":-18},{"s":55,"t":50,"z":-15},{"s":55,"t":75,"z":-23},{"s":55,"t":92,"z":-17},{"s":55,"t":97,"z":0},{"s":55,"t":102,"z":8},{"s":55,"t":107,"z":-18},{"s":55,"t":125,"z":-14},{"s":55,"t":150,"z":-21},{"s":55,"t":175,"z":-17},{"s":55,"t":200,"z":-22},{"s":55,"t":225,"z":-13},{"s":55,"t":250,"z":-16},{"s":55,"t":275,"z":-21},{"s":55,"t":300,"z":-19},{"s":55,"t":325,"z":-14},{"s":55,"t":350,"z":-20},{"s":55,"t":375,"z":-18},{"s":55,"t":400,"z":-13},{"s":55,"t":425,"z":-21},{"s":55,"t":450,"z":-15},{"s":55,"t":475,"z":-22},{"s":55,"t":500,"z":-19},
{"s":56,"t":0,"z":-22},{"s":56,"t":25,"z":-15},{"s":56,"t":50,"z":-19},{"s":56,"t":75,"z":-20},{"s":56,"t":100,"z":-14},{"s":56,"t":125,"z":-18},{"s":56,"t":150,"z":-15},{"s":56,"t":175,"z":-23},{"s":56,"t":200,"z":-16},{"s":56,"t":225,"z":-19},{"s":56,"t":250,"z":-21},{"s":56,"t":275,"z":-13},{"s":56,"t":300,"z":-17},{"s":56,"t":325,"z":-22},{"s":56,"t":350,"z":-15},{"s":56,"t":375,"z":-19},{"s":56,"t":400,"z":-16},{"s":56,"t":425,"z":-23},{"s":56,"t":450,"z":-20},{"s":56,"t":475,"z":-14},{"s":56,"t":500,"z":-18},
{"s":57,"t":0,"z":-19},{"s":57,"t":25,"z":-14},{"s":57,"t":50,"z":-22},{"s":57,"t":75,"z":-17},{"s":57,"t":100,"z":-15},{"s":57,"t":125,"z":-24},{"s":57,"t":150,"z":-20},{"s":57,"t":175,"z":-15},{"s":57,"t":200,"z":-17},{"s":57,"t":225,"z":-22},{"s":57,"t":250,"z":-14},{"s":57,"t":275,"z":-20},{"s":57,"t":300,"z":-18},{"s":57,"t":325,"z":-16},{"s":57,"t":350,"z":-23},{"s":57,"t":375,"z":-14},{"s":57,"t":400,"z":-21},{"s":57,"t":425,"z":-19},{"s":57,"t":450,"z":-16},{"s":57,"t":475,"z":-17},{"s":57,"t":500,"z":-22},
{"s":58,"t":0,"z":-17},{"s":58,"t":25,"z":-21},{"s":58,"t":50,"z":-13},{"s":58,"t":75,"z":-18},{"s":58,"t":100,"z":-21},{"s":58,"t":125,"z":-16},{"s":58,"t":150,"z":-14},{"s":58,"t":175,"z":-19},{"s":58,"t":200,"z":-23},{"s":58,"t":225,"z":-15},{"s":58,"t":250,"z":-21},{"s":58,"t":275,"z":-20},{"s":58,"t":300,"z":-13},{"s":58,"t":325,"z":-17},{"s":58,"t":350,"z":-22},{"s":58,"t":375,"z":-9},{"s":58,"t":400,"z":-19},{"s":58,"t":425,"z":-14},{"s":58,"t":450,"z":-21},{"s":58,"t":475,"z":-20},{"s":58,"t":500,"z":-16},
{"s":59,"t":0,"z":-14},{"s":59,"t":25,"z":-20},{"s":59,"t":50,"z":-16},{"s":59,"t":75,"z":-24},{"s":59,"t":100,"z":-17},{"s":59,"t":125,"z":-15},{"s":59,"t":150,"z":-22},{"s":59,"t":175,"z":-17},{"s":59,"t":200,"z":-16},{"s":59,"t":225,"z":-23},{"s":59,"t":250,"z":-19},{"s":59,"t":275,"z":-14},{"s":59,"t":300,"z":-22},{"s":59,"t":325,"z":-15},{"s":59,"t":350,"z":-17},{"s":59,"t":375,"z":-23},{"s":59,"t":400,"z":-15},{"s":59,"t":425,"z":-21},{"s":59,"t":450,"z":-18},{"s":59,"t":475,"z":-13},{"s":59,"t":500,"z":-20},
{"s":60,"t":0,"z":-21},{"s":60,"t":25,"z":-17},{"s":60,"t":50,"z":-18},{"s":60,"t":75,"z":-20},{"s":60,"t":100,"z":-13},{"s":60,"t":125,"z":-21},{"s":60,"t":150,"z":-17},{"s":60,"t":175,"z":-22},{"s":60,"t":200,"z":-15},{"s":60,"t":225,"z":-16},{"s":60,"t":250,"z":-23},{"s":60,"t":275,"z":-19},{"s":60,"t":300,"z":-16},{"s":60,"t":325,"z":-21},{"s":60,"t":350,"z":-13},{"s":60,"t":375,"z":-20},{"s":60,"t":400,"z":-22},{"s":60,"t":425,"z":-15},{"s":60,"t":450,"z":-17},{"s":60,"t":475,"z":-21},{"s":60,"t":500,"z":-14}],
"p7":[{"s":61,"t":0,"z":-17},{"s":61,"t":25,"z":-21},{"s":61,"t":50,"z":-14},{"s":61,"t":75,"z":-20},{"s":61,"t":100,"z":-23},{"s":61,"t":125,"z":-16},{"s":61,"t":150,"z":-13},{"s":61,"t":175,"z":-19},{"s":61,"t":200,"z":-21},{"s":61,"t":225,"z":-15},{"s":61,"t":250,"z":-25},{"s":61,"t":275,"z":-17},{"s":61,"t":300,"z":-14},{"s":61,"t":325,"z":-20},{"s":61,"t":350,"z":-16},{"s":61,"t":375,"z":-22},{"s":61,"t":398,"z":-17},{"s":61,"t":406,"z":-7},{"s":61,"t":412,"z":-19},{"s":61,"t":425,"z":-19},{"s":61,"t":450,"z":-21},{"s":61,"t":475,"z":-16},{"s":61,"t":500,"z":-20},
{"s":62,"t":0,"z":-15},{"s":62,"t":25,"z":-19},{"s":62,"t":50,"z":-23},{"s":62,"t":75,"z":-16},{"s":62,"t":100,"z":-17},{"s":62,"t":125,"z":-14},{"s":62,"t":150,"z":-22},{"s":62,"t":175,"z":-20},{"s":62,"t":200,"z":-16},{"s":62,"t":225,"z":-19},{"s":62,"t":250,"z":-13},{"s":62,"t":275,"z":-21},{"s":62,"t":300,"z":-18},{"s":62,"t":325,"z":-15},{"s":62,"t":350,"z":-25},{"s":62,"t":375,"z":-17},{"s":62,"t":400,"z":-20},{"s":62,"t":425,"z":-14},{"s":62,"t":450,"z":-24},{"s":62,"t":475,"z":-16},{"s":62,"t":500,"z":-19},
{"s":63,"t":0,"z":-18},{"s":63,"t":25,"z":-14},{"s":63,"t":50,"z":-20},{"s":63,"t":75,"z":-23},{"s":63,"t":100,"z":-16},{"s":63,"t":125,"z":-19},{"s":63,"t":150,"z":-15},{"s":63,"t":175,"z":-22},{"s":63,"t":200,"z":-17},{"s":63,"t":225,"z":-13},{"s":63,"t":250,"z":-21},{"s":63,"t":275,"z":-24},{"s":63,"t":300,"z":-16},{"s":63,"t":325,"z":-23},{"s":63,"t":350,"z":-15},{"s":63,"t":375,"z":-18},{"s":63,"t":400,"z":-14},{"s":63,"t":425,"z":-20},{"s":63,"t":450,"z":-19},{"s":63,"t":475,"z":-24},{"s":63,"t":500,"z":-22},
{"s":64,"t":0,"z":-16},{"s":64,"t":25,"z":-20},{"s":64,"t":50,"z":-21},{"s":64,"t":75,"z":-14},{"s":64,"t":100,"z":-19},{"s":64,"t":125,"z":-16},{"s":64,"t":150,"z":-22},{"s":64,"t":175,"z":-17},{"s":64,"t":200,"z":-13},{"s":64,"t":225,"z":-20},{"s":64,"t":250,"z":-21},{"s":64,"t":275,"z":-15},{"s":64,"t":300,"z":-23},{"s":64,"t":325,"z":-19},{"s":64,"t":350,"z":-14},{"s":64,"t":375,"z":-16},{"s":64,"t":400,"z":-21},{"s":64,"t":425,"z":-18},{"s":64,"t":440,"z":-20},{"s":64,"t":447,"z":-12},{"s":64,"t":450,"z":4},{"s":64,"t":455,"z":-1},{"s":64,"t":460,"z":8},{"s":64,"t":465,"z":17},{"s":64,"t":472,"z":20},{"s":64,"t":480,"z":16},{"s":64,"t":488,"z":21},{"s":64,"t":495,"z":18},{"s":64,"t":500,"z":22},
{"s":65,"t":0,"z":-14},{"s":65,"t":25,"z":-21},{"s":65,"t":50,"z":-17},{"s":65,"t":75,"z":-15},{"s":65,"t":100,"z":-22},{"s":65,"t":125,"z":-20},{"s":65,"t":150,"z":-13},{"s":65,"t":175,"z":-21},{"s":65,"t":200,"z":-16},{"s":65,"t":225,"z":-19},{"s":65,"t":250,"z":-23},{"s":65,"t":275,"z":-16},{"s":65,"t":300,"z":-15},{"s":65,"t":325,"z":-22},{"s":65,"t":350,"z":-17},{"s":65,"t":375,"z":-21},{"s":65,"t":400,"z":-13},{"s":65,"t":425,"z":-20},{"s":65,"t":450,"z":-18},{"s":65,"t":475,"z":-17},{"s":65,"t":500,"z":-21},
{"s":66,"t":0,"z":-20},{"s":66,"t":25,"z":-15},{"s":66,"t":50,"z":-22},{"s":66,"t":75,"z":-17},{"s":66,"t":100,"z":-14},{"s":66,"t":125,"z":-21},{"s":66,"t":150,"z":-18},{"s":66,"t":175,"z":-13},{"s":66,"t":200,"z":-23},{"s":66,"t":225,"z":-16},{"s":66,"t":250,"z":-19},{"s":66,"t":275,"z":-15},{"s":66,"t":300,"z":-24},{"s":66,"t":325,"z":-17},{"s":66,"t":350,"z":-14},{"s":66,"t":375,"z":-20},{"s":66,"t":400,"z":-16},{"s":66,"t":425,"z":-22},{"s":66,"t":450,"z":-15},{"s":66,"t":475,"z":-19},{"s":66,"t":500,"z":-18},
{"s":67,"t":0,"z":-21},{"s":67,"t":25,"z":-16},{"s":67,"t":50,"z":-19},{"s":67,"t":75,"z":-13},{"s":67,"t":100,"z":-20},{"s":67,"t":125,"z":-22},{"s":67,"t":150,"z":-15},{"s":67,"t":175,"z":-18},{"s":67,"t":200,"z":-14},{"s":67,"t":225,"z":-23},{"s":67,"t":250,"z":-17},{"s":67,"t":275,"z":-20},{"s":67,"t":300,"z":-13},{"s":67,"t":325,"z":-21},{"s":67,"t":350,"z":-19},{"s":67,"t":375,"z":-15},{"s":67,"t":400,"z":-22},{"s":67,"t":425,"z":-16},{"s":67,"t":450,"z":-17},{"s":67,"t":475,"z":-23},{"s":67,"t":500,"z":-15},
{"s":68,"t":0,"z":-19},{"s":68,"t":25,"z":-22},{"s":68,"t":50,"z":-15},{"s":68,"t":75,"z":-21},{"s":68,"t":100,"z":-13},{"s":68,"t":125,"z":-18},{"s":68,"t":150,"z":-20},{"s":68,"t":175,"z":-14},{"s":68,"t":200,"z":-19},{"s":68,"t":225,"z":-21},{"s":68,"t":250,"z":-16},{"s":68,"t":275,"z":-13},{"s":68,"t":300,"z":-22},{"s":68,"t":325,"z":-17},{"s":68,"t":350,"z":-21},{"s":68,"t":375,"z":-14},{"s":68,"t":400,"z":-19},{"s":68,"t":425,"z":-23},{"s":68,"t":450,"z":-15},{"s":68,"t":475,"z":-18},{"s":68,"t":500,"z":-16},
{"s":69,"t":0,"z":-20},{"s":69,"t":25,"z":-13},{"s":69,"t":50,"z":-18},{"s":69,"t":75,"z":-21},{"s":69,"t":100,"z":-15},{"s":69,"t":125,"z":-23},{"s":69,"t":150,"z":-17},{"s":69,"t":175,"z":-15},{"s":69,"t":200,"z":-22},{"s":69,"t":225,"z":-14},{"s":69,"t":250,"z":-19},{"s":69,"t":275,"z":-23},{"s":69,"t":300,"z":-16},{"s":69,"t":325,"z":-17},{"s":69,"t":350,"z":-22},{"s":69,"t":375,"z":-15},{"s":69,"t":400,"z":-17},{"s":69,"t":425,"z":-24},{"s":69,"t":450,"z":-16},{"s":69,"t":475,"z":-20},{"s":69,"t":482,"z":-14},{"s":69,"t":487,"z":6},{"s":69,"t":492,"z":9},{"s":69,"t":496,"z":2},{"s":69,"t":500,"z":6},
{"s":70,"t":0,"z":-22},{"s":70,"t":25,"z":-17},{"s":70,"t":31,"z":-15},{"s":70,"t":36,"z":0},{"s":70,"t":41,"z":-18},{"s":70,"t":50,"z":-16},{"s":70,"t":75,"z":-19},{"s":70,"t":100,"z":-21},{"s":70,"t":125,"z":-14},{"s":70,"t":150,"z":-23},{"s":70,"t":175,"z":-16},{"s":70,"t":200,"z":-18},{"s":70,"t":225,"z":-20},{"s":70,"t":250,"z":-14},{"s":70,"t":275,"z":-22},{"s":70,"t":300,"z":-17},{"s":70,"t":319,"z":-15},{"s":70,"t":325,"z":-4},{"s":70,"t":331,"z":-19},{"s":70,"t":350,"z":-20},{"s":70,"t":375,"z":-24},{"s":70,"t":400,"z":-15},{"s":70,"t":425,"z":-17},{"s":70,"t":450,"z":-22},{"s":70,"t":475,"z":-14},{"s":70,"t":500,"z":-19}],
"p8":[{"s":71,"t":0,"z":-20},{"s":71,"t":25,"z":-16},{"s":71,"t":50,"z":-21},{"s":71,"t":75,"z":-19},{"s":71,"t":100,"z":-12},{"s":71,"t":125,"z":-22},{"s":71,"t":150,"z":-16},{"s":71,"t":175,"z":-20},{"s":71,"t":200,"z":-14},{"s":71,"t":225,"z":-17},{"s":71,"t":250,"z":-25},{"s":71,"t":275,"z":-15},{"s":71,"t":300,"z":-21},{"s":71,"t":325,"z":-19},{"s":71,"t":350,"z":-13},{"s":71,"t":375,"z":-16},{"s":71,"t":400,"z":-23},{"s":71,"t":425,"z":-20},{"s":71,"t":450,"z":-14},{"s":71,"t":475,"z":-21},{"s":71,"t":500,"z":-17},
{"s":72,"t":0,"z":-19},{"s":72,"t":25,"z":-16},{"s":72,"t":50,"z":-24},{"s":72,"t":75,"z":-14},{"s":72,"t":100,"z":-20},{"s":72,"t":125,"z":-17},{"s":72,"t":150,"z":-23},{"s":72,"t":175,"z":-15},{"s":72,"t":200,"z":-18},{"s":72,"t":225,"z":-21},{"s":72,"t":250,"z":-13},{"s":72,"t":275,"z":-19},{"s":72,"t":300,"z":-16},{"s":72,"t":325,"z":-20},{"s":72,"t":350,"z":-22},{"s":72,"t":375,"z":-14},{"s":72,"t":400,"z":-17},{"s":72,"t":425,"z":-16},{"s":72,"t":450,"z":-23},{"s":72,"t":475,"z":-19},{"s":72,"t":500,"z":-15},
{"s":73,"t":0,"z":-22},{"s":73,"t":25,"z":-15},{"s":73,"t":50,"z":-19},{"s":73,"t":75,"z":-20},{"s":73,"t":100,"z":-14},{"s":73,"t":125,"z":-18},{"s":73,"t":150,"z":-15},{"s":73,"t":175,"z":-23},{"s":73,"t":200,"z":-16},{"s":73,"t":225,"z":-19},{"s":73,"t":250,"z":-21},{"s":73,"t":275,"z":-13},{"s":73,"t":282,"z":-17},{"s":73,"t":288,"z":-5},{"s":73,"t":294,"z":-19},{"s":73,"t":300,"z":-17},{"s":73,"t":325,"z":-22},{"s":73,"t":350,"z":-15},{"s":73,"t":375,"z":-26},{"s":73,"t":400,"z":-16},{"s":73,"t":425,"z":-23},{"s":73,"t":450,"z":-20},{"s":73,"t":475,"z":-14},{"s":73,"t":500,"z":-18},
{"s":74,"t":0,"z":-17},{"s":74,"t":25,"z":-21},{"s":74,"t":50,"z":-13},{"s":74,"t":75,"z":-18},{"s":74,"t":100,"z":-21},{"s":74,"t":125,"z":-16},{"s":74,"t":150,"z":-14},{"s":74,"t":175,"z":-19},{"s":74,"t":200,"z":-23},{"s":74,"t":225,"z":-15},{"s":74,"t":250,"z":-21},{"s":74,"t":275,"z":-20},{"s":74,"t":300,"z":-13},{"s":74,"t":325,"z":-17},{"s":74,"t":350,"z":-22},{"s":74,"t":375,"z":-16},{"s":74,"t":400,"z":-19},{"s":74,"t":425,"z":-14},{"s":74,"t":450,"z":-21},{"s":74,"t":475,"z":-20},{"s":74,"t":500,"z":-16},
{"s":75,"t":0,"z":-17},{"s":75,"t":25,"z":-19},{"s":75,"t":33,"z":-14},{"s":75,"t":36,"z":6},{"s":75,"t":42,"z":4},{"s":75,"t":46,"z":-11},{"s":75,"t":52,"z":14},{"s":75,"t":60,"z":19},{"s":75,"t":75,"z":17},{"s":75,"t":90,"z":20},{"s":75,"t":100,"z":15},{"s":75,"t":115,"z":19},{"s":75,"t":125,"z":16},{"s":75,"t":140,"z":21},{"s":75,"t":150,"z":17},{"s":75,"t":165,"z":14},{"s":75,"t":172,"z":27},{"s":75,"t":180,"z":18},{"s":75,"t":200,"z":16},{"s":75,"t":215,"z":19},{"s":75,"t":225,"z":13},{"s":75,"t":240,"z":18},{"s":75,"t":250,"z":20},{"s":75,"t":275,"z":17},{"s":75,"t":300,"z":15},{"s":75,"t":310,"z":21},{"s":75,"t":325,"z":18},{"s":75,"t":340,"z":22},{"s":75,"t":350,"z":16},{"s":75,"t":365,"z":24},{"s":75,"t":375,"z":19},{"s":75,"t":390,"z":21},{"s":75,"t":400,"z":17},{"s":75,"t":415,"z":22},{"s":75,"t":425,"z":25},{"s":75,"t":440,"z":19},{"s":75,"t":450,"z":23},{"s":75,"t":465,"z":17},{"s":75,"t":475,"z":15},{"s":75,"t":490,"z":22},{"s":75,"t":500,"z":19},
{"s":76,"t":0,"z":-21},{"s":76,"t":25,"z":-17},{"s":76,"t":50,"z":-18},{"s":76,"t":75,"z":-20},{"s":76,"t":100,"z":-13},{"s":76,"t":125,"z":-21},{"s":76,"t":150,"z":-17},{"s":76,"t":175,"z":-22},{"s":76,"t":200,"z":-15},{"s":76,"t":225,"z":-16},{"s":76,"t":250,"z":-23},{"s":76,"t":275,"z":-19},{"s":76,"t":300,"z":-16},{"s":76,"t":325,"z":-21},{"s":76,"t":350,"z":-13},{"s":76,"t":375,"z":-20},{"s":76,"t":400,"z":-22},{"s":76,"t":425,"z":-15},{"s":76,"t":450,"z":-17},{"s":76,"t":475,"z":-21},{"s":76,"t":500,"z":-14},
{"s":77,"t":0,"z":-18},{"s":77,"t":25,"z":-19},{"s":77,"t":50,"z":-15},{"s":77,"t":75,"z":-22},{"s":77,"t":100,"z":-16},{"s":77,"t":125,"z":-20},{"s":77,"t":150,"z":-14},{"s":77,"t":175,"z":-17},{"s":77,"t":200,"z":-24},{"s":77,"t":225,"z":-15},{"s":77,"t":250,"z":-19},{"s":77,"t":275,"z":-16},{"s":77,"t":300,"z":-23},{"s":77,"t":325,"z":-13},{"s":77,"t":350,"z":-18},{"s":77,"t":375,"z":-21},{"s":77,"t":400,"z":-14},{"s":77,"t":425,"z":-17},{"s":77,"t":450,"z":-22},{"s":77,"t":475,"z":-15},{"s":77,"t":500,"z":-20},
{"s":78,"t":0,"z":-15},{"s":78,"t":25,"z":-23},{"s":78,"t":50,"z":-17},{"s":78,"t":75,"z":-16},{"s":78,"t":100,"z":-22},{"s":78,"t":125,"z":-15},{"s":78,"t":150,"z":-19},{"s":78,"t":175,"z":-21},{"s":78,"t":200,"z":-13},{"s":78,"t":225,"z":-20},{"s":78,"t":250,"z":-17},{"s":78,"t":275,"z":-23},{"s":78,"t":300,"z":-14},{"s":78,"t":325,"z":-18},{"s":78,"t":350,"z":-15},{"s":78,"t":375,"z":-22},{"s":78,"t":400,"z":-20},{"s":78,"t":425,"z":-13},{"s":78,"t":450,"z":-19},{"s":78,"t":475,"z":-16},{"s":78,"t":500,"z":-21},
{"s":79,"t":0,"z":-16},{"s":79,"t":25,"z":-18},{"s":79,"t":50,"z":-15},{"s":79,"t":75,"z":-23},{"s":79,"t":100,"z":-19},{"s":79,"t":125,"z":-14},{"s":79,"t":150,"z":-21},{"s":79,"t":175,"z":-17},{"s":79,"t":200,"z":-22},{"s":79,"t":225,"z":-13},{"s":79,"t":250,"z":-16},{"s":79,"t":275,"z":-21},{"s":79,"t":282,"z":-17},{"s":79,"t":288,"z":0},{"s":79,"t":294,"z":-18},{"s":79,"t":300,"z":-19},{"s":79,"t":325,"z":-14},{"s":79,"t":350,"z":-20},{"s":79,"t":375,"z":-18},{"s":79,"t":400,"z":-13},{"s":79,"t":425,"z":-21},{"s":79,"t":450,"z":-15},{"s":79,"t":475,"z":-22},{"s":79,"t":500,"z":-19},
{"s":80,"t":0,"z":-19},{"s":80,"t":25,"z":-14},{"s":80,"t":50,"z":-22},{"s":80,"t":75,"z":-17},{"s":80,"t":100,"z":-15},{"s":80,"t":112,"z":-7},{"s":80,"t":125,"z":-24},{"s":80,"t":150,"z":-20},{"s":80,"t":175,"z":-15},{"s":80,"t":200,"z":-17},{"s":80,"t":225,"z":-22},{"s":80,"t":250,"z":-14},{"s":80,"t":275,"z":-20},{"s":80,"t":300,"z":-18},{"s":80,"t":325,"z":-16},{"s":80,"t":350,"z":-23},{"s":80,"t":375,"z":-14},{"s":80,"t":400,"z":-21},{"s":80,"t":425,"z":-19},{"s":80,"t":450,"z":-16},{"s":80,"t":475,"z":-17},{"s":80,"t":500,"z":-22}]
},
"columns":4,"spacing":{"row":44,"column":122},"bounds":"flush","align":"all",
"resolve":{"scale":{"color":"independent","x":"independent","y":"independent"},"axis":{"x":"independent","y":"independent"},"legend":{"color":"independent"}},
"concat":[
{"width":170,"height":182,"layer":[{"data":{"name":"p1"},"mark":{"type":"line","strokeWidth":3,"opacity":0.6},"encoding":{"x":{"field":"t","type":"quantitative","scale":{"domain":[0,500],"nice":false},"axis":{"values":[0,250,500],"labels":false,"title":null}},"y":{"field":"z","type":"quantitative","scale":{"domain":[-40,40],"nice":false},"axis":{"values":[-40,-20,0,20,40],"title":"z-Position (Å)","titleX":-59,"titleY":213,"titleAngle":270,"titleAlign":"center","titleBaseline":"alphabetic"}},"color":{"field":"s","type":"nominal","scale":{"domain":[1,2,3,4,5,6,7,8,9,10]},"legend":{"title":null,"labelExpr":"'DHAP' + datum.label"}}}},{"data":{"values":[{}]},"mark":{"type":"rule","color":"#333","strokeWidth":1.6,"strokeDash":[8,3.5]},"encoding":{"y":{"datum":0}}}]},
{"width":170,"height":182,"layer":[{"data":{"name":"p2"},"mark":{"type":"line","strokeWidth":3,"opacity":0.6},"encoding":{"x":{"field":"t","type":"quantitative","scale":{"domain":[0,500],"nice":false},"axis":{"values":[0,250,500],"labels":false,"title":null}},"y":{"field":"z","type":"quantitative","scale":{"domain":[-40,40],"nice":false},"axis":{"values":[-40,-20,0,20,40],"labels":false,"title":null}},"color":{"field":"s","type":"nominal","scale":{"domain":[11,12,13,14,15,16,17,18,19,20]},"legend":{"title":null,"labelExpr":"'DHAP' + datum.label"}}}},{"data":{"values":[{}]},"mark":{"type":"rule","color":"#333","strokeWidth":1.6,"strokeDash":[8,3.5]},"encoding":{"y":{"datum":0}}}]},
{"width":170,"height":182,"layer":[{"data":{"name":"p3"},"mark":{"type":"line","strokeWidth":3,"opacity":0.6},"encoding":{"x":{"field":"t","type":"quantitative","scale":{"domain":[0,500],"nice":false},"axis":{"values":[0,250,500],"labels":false,"title":null}},"y":{"field":"z","type":"quantitative","scale":{"domain":[-40,40],"nice":false},"axis":{"values":[-40,-20,0,20,40],"labels":false,"title":null}},"color":{"field":"s","type":"nominal","scale":{"domain":[21,22,23,24,25,26,27,28,29,30]},"legend":{"title":null,"labelExpr":"'DHAP' + datum.label"}}}},{"data":{"values":[{}]},"mark":{"type":"rule","color":"#333","strokeWidth":1.6,"strokeDash":[8,3.5]},"encoding":{"y":{"datum":0}}}]},
{"width":170,"height":182,"layer":[{"data":{"name":"p4"},"mark":{"type":"line","strokeWidth":3,"opacity":0.6},"encoding":{"x":{"field":"t","type":"quantitative","scale":{"domain":[0,500],"nice":false},"axis":{"values":[0,250,500],"labels":false,"title":null}},"y":{"field":"z","type":"quantitative","scale":{"domain":[-40,40],"nice":false},"axis":{"values":[-40,-20,0,20,40],"labels":false,"title":null}},"color":{"field":"s","type":"nominal","scale":{"domain":[31,32,33,34,35,36,37,38,39,40]},"legend":{"title":null,"labelExpr":"'DHAP' + datum.label"}}}},{"data":{"values":[{}]},"mark":{"type":"rule","color":"#333","strokeWidth":1.6,"strokeDash":[8,3.5]},"encoding":{"y":{"datum":0}}}]},
{"width":170,"height":182,"layer":[{"data":{"name":"p5"},"mark":{"type":"line","strokeWidth":3,"opacity":0.6},"encoding":{"x":{"field":"t","type":"quantitative","scale":{"domain":[0,500],"nice":false},"axis":{"values":[0,250,500],"title":null}},"y":{"field":"z","type":"quantitative","scale":{"domain":[-40,40],"nice":false},"axis":{"values":[-40,-20,0,20,40],"title":null}},"color":{"field":"s","type":"nominal","scale":{"domain":[41,42,43,44,45,46,47,48,49,50]},"legend":{"title":null,"labelExpr":"'DHAP' + datum.label"}}}},{"data":{"values":[{}]},"mark":{"type":"rule","color":"#333","strokeWidth":1.6,"strokeDash":[8,3.5]},"encoding":{"y":{"datum":0}}}]},
{"width":170,"height":182,"layer":[{"data":{"name":"p6"},"mark":{"type":"line","strokeWidth":3,"opacity":0.6},"encoding":{"x":{"field":"t","type":"quantitative","scale":{"domain":[0,500],"nice":false},"axis":{"values":[0,250,500],"title":"Time (ns)","titleX":256,"titleY":59,"titleAngle":0,"titleAlign":"center","titleBaseline":"alphabetic"}},"y":{"field":"z","type":"quantitative","scale":{"domain":[-40,40],"nice":false},"axis":{"values":[-40,-20,0,20,40],"labels":false,"title":null}},"color":{"field":"s","type":"nominal","scale":{"domain":[51,52,53,54,55,56,57,58,59,60]},"legend":{"title":null,"labelExpr":"'DHAP' + datum.label"}}}},{"data":{"values":[{}]},"mark":{"type":"rule","color":"#333","strokeWidth":1.6,"strokeDash":[8,3.5]},"encoding":{"y":{"datum":0}}}]},
{"width":170,"height":182,"layer":[{"data":{"name":"p7"},"mark":{"type":"line","strokeWidth":3,"opacity":0.6},"encoding":{"x":{"field":"t","type":"quantitative","scale":{"domain":[0,500],"nice":false},"axis":{"values":[0,250,500],"title":null}},"y":{"field":"z","type":"quantitative","scale":{"domain":[-40,40],"nice":false},"axis":{"values":[-40,-20,0,20,40],"labels":false,"title":null}},"color":{"field":"s","type":"nominal","scale":{"domain":[61,62,63,64,65,66,67,68,69,70]},"legend":{"title":null,"labelExpr":"'DHAP' + datum.label"}}}},{"data":{"values":[{}]},"mark":{"type":"rule","color":"#333","strokeWidth":1.6,"strokeDash":[8,3.5]},"encoding":{"y":{"datum":0}}}]},
{"width":170,"height":182,"layer":[{"data":{"name":"p8"},"mark":{"type":"line","strokeWidth":3,"opacity":0.6},"encoding":{"x":{"field":"t","type":"quantitative","scale":{"domain":[0,500],"nice":false},"axis":{"values":[0,250,500],"title":null}},"y":{"field":"z","type":"quantitative","scale":{"domain":[-40,40],"nice":false},"axis":{"values":[-40,-20,0,20,40],"labels":false,"title":null}},"color":{"field":"s","type":"nominal","scale":{"domain":[71,72,73,74,75,76,77,78,79,80]},"legend":{"title":null,"labelExpr":"'DHAP' + datum.label"}}}},{"data":{"values":[{}]},"mark":{"type":"rule","color":"#333","strokeWidth":1.6,"strokeDash":[8,3.5]},"encoding":{"y":{"datum":0}}}]}
],
"config":{"font":"Liberation Sans","background":"#ffffff",
"view":{"stroke":"#000","strokeWidth":1.6},
"range":{"category":["#1f77b4","#ff7f0e","#2ca02c","#d62728","#9467bd","#8c564b","#e377c2","#7f7f7f","#bcbd22","#17becf"]},
"axis":{"domain":false,"grid":false,"ticks":true,"tickSize":7,"tickWidth":1.6,"tickColor":"#000","labelFont":"Liberation Sans","labelFontSize":20,"labelColor":"#000","labelPadding":4.5,"labelFlush":false,"labelOverlap":false,"titleFont":"Liberation Sans","titleFontSize":20,"titleFontWeight":"normal","titleColor":"#000"},
"legend":{"orient":"right","offset":2.4,"padding":9.6,"symbolType":"M-3,0H3","symbolSize":81,"symbolStrokeWidth":3,"symbolOpacity":0.6,"labelFont":"Liberation Sans","labelFontSize":11.5,"labelColor":"#000","labelOffset":15,"rowPadding":4.7}
}}
